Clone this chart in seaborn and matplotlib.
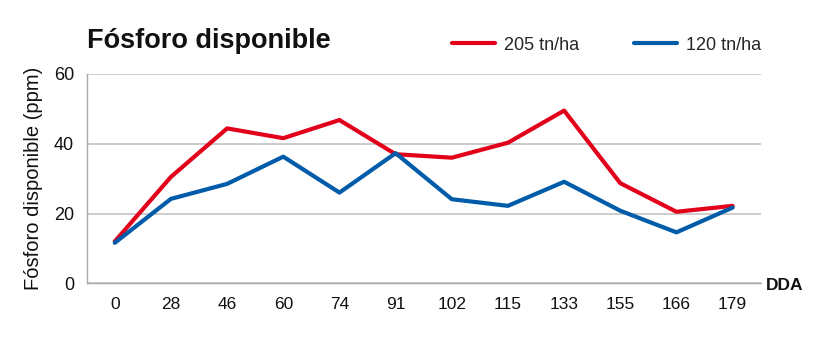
import matplotlib
matplotlib.use("Agg")
import matplotlib.pyplot as plt
import seaborn as sns
import pandas as pd
import numpy as np
from matplotlib.lines import Line2D

dda = ["0", "28", "46", "60", "74", "91", "102", "115", "133", "155", "166", "179"]
p205 = [12.0, 30.5, 44.4, 41.6, 46.8, 37.0, 36.0, 40.3, 49.5, 28.7, 20.5, 22.2]
p120 = [11.6, 24.2, 28.5, 36.3, 26.0, 37.3, 24.1, 22.2, 29.1, 20.8, 14.6, 21.7]
series = ["205 tn/ha", "120 tn/ha"]
colors = ["#e2001a", "#005ca9"]
yticks = [0, 20, 40, 60]

df = pd.DataFrame({
    "DDA": dda * 2,
    "P": p205 + p120,
    "Serie": [series[0]] * len(dda) + [series[1]] * len(dda),
})

sns.set_theme(style="white")
plt.rcParams["font.family"] = ["Liberation Sans", "DejaVu Sans"]

fig = plt.figure(figsize=(8.32, 3.4), dpi=100)
ax = fig.add_axes([0.1042, 0.1668, 0.8101, 0.6156])

sns.lineplot(data=df, x="DDA", y="P", hue="Serie", palette=colors,
             linewidth=3.0, ax=ax, legend=False, sort=False)

ax.set_xlim(-0.5, len(dda) - 0.5)
ax.set_ylim(0, 60)
ax.set_yticks(yticks)
ax.set_yticklabels([str(v) for v in yticks], fontsize=13, color="#111111")
ax.set_xticks(range(len(dda)))
ax.set_xticklabels(dda, fontsize=12.5, color="#111111")
ax.set_xticks(np.arange(-0.5, len(dda), 1.0), minor=True)
ax.tick_params(axis="x", which="major", length=0, pad=10)
ax.tick_params(axis="x", which="minor", length=6, width=1, color="#aaaaaa", direction="out")
ax.tick_params(axis="y", length=0, pad=9)

ax.grid(axis="y", color="#c4c4c4", linewidth=1.2)
ax.set_axisbelow(True)
for s in ["top", "right"]:
    ax.spines[s].set_visible(False)
for s in ["left", "bottom"]:
    ax.spines[s].set_color("#aaaaaa")
    ax.spines[s].set_linewidth(1.0)

ax.set_xlabel("")
ax.set_ylabel("Fósforo disponible (ppm)", fontsize=14.5, color="#111111", labelpad=8)

fig.text(87 / 832, 1 - 41 / 340, "Fósforo disponible", fontsize=19.5,
         fontweight="bold", ha="left", va="center", color="#111111")
fig.text(766 / 832, 1 - 285 / 340, "DDA", fontsize=12.5, fontweight="bold",
         ha="left", va="center", color="#111111")

handles = [Line2D([0], [0], color=c, lw=3.0) for c in colors]
fig.legend(handles, series, loc="center left", bbox_to_anchor=(452 / 832, 1 - 45 / 340),
           ncol=2, frameon=False, fontsize=13, handlelength=2.4, handletextpad=0.5,
           columnspacing=3.0, borderpad=0, borderaxespad=0)

fig.savefig("out.png", dpi=100)
